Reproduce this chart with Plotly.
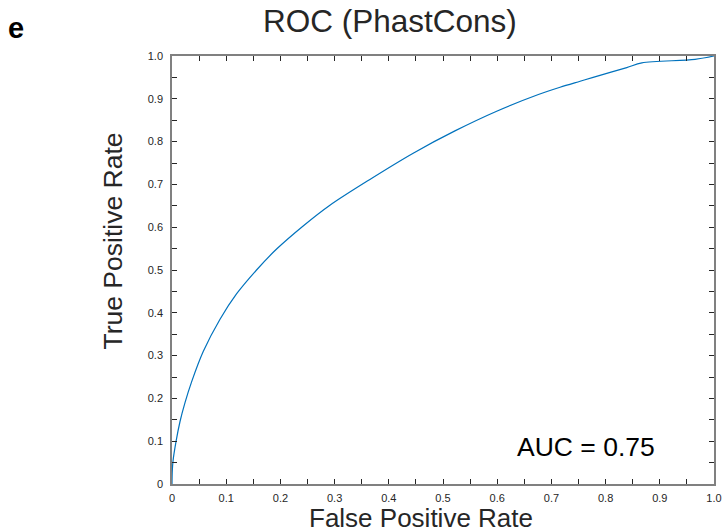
import plotly.graph_objects as go

fpr = [0.0, 0.0005, 0.002, 0.0074, 0.0148, 0.024, 0.036, 0.0578, 0.0886, 0.119, 0.156, 0.193,
       0.242, 0.292, 0.368, 0.445, 0.522, 0.599, 0.676, 0.716, 0.753, 0.777, 0.839, 0.867,
       0.965, 1.0]
tpr = [0.0, 0.03, 0.055, 0.099, 0.146, 0.19, 0.238, 0.31, 0.385, 0.444, 0.500, 0.549,
       0.603, 0.652, 0.714, 0.773, 0.825, 0.871, 0.910, 0.927, 0.941, 0.950, 0.973, 0.984,
       0.992, 1.0]

tick_vals = [i * 0.05 for i in range(21)]
tick_text = ["0" if i == 0 else ("1.0" if i == 20 else (f"{i*0.05:.1f}" if i % 2 == 0 else "")) for i in range(21)]

title_text = "ROC (PhastCons)"
x_title = "False Positive Rate"
y_title = "True Positive Rate"
auc_text = "AUC = 0.75"
panel = "e"

FONT = "Liberation Sans, Arial, Helvetica, sans-serif"

fig = go.Figure()
fig.add_trace(go.Scatter(x=fpr, y=tpr, mode="lines",
                         line=dict(color="#0072BD", width=1.2, shape="spline", smoothing=0.9),
                         showlegend=False, hoverinfo="skip", cliponaxis=True))

axis_common = dict(
    range=[0, 1], tickvals=tick_vals, ticktext=tick_text, ticks="inside", ticklen=5,
    tickwidth=1, tickcolor="#262626", showline=True, linecolor="#808080", linewidth=1.5,
    mirror="ticks", showgrid=False, zeroline=False, automargin=False,
    tickfont=dict(family=FONT, size=11, color="#262626"),
)

fig.update_xaxes(**axis_common, ticklabelstandoff=3)
fig.update_yaxes(**axis_common, ticklabelstandoff=5)

fig.update_layout(
    width=722, height=532,
    margin=dict(l=172, r=8, t=56, b=48),
    paper_bgcolor="white", plot_bgcolor="white",
    font=dict(family=FONT, color="#262626"),
)

W, H, L, B = 542, 428, 172, 48

def px(x):
    return (x - L) / W

def py(y):
    return (532 - y - B) / H

fig.add_annotation(text=title_text, xref="paper", yref="paper", x=px(390), y=py(21),
                   showarrow=False, font=dict(size=31.5, family=FONT, color="#262626"),
                   xanchor="center", yanchor="middle")
fig.add_annotation(text=x_title, xref="paper", yref="paper", x=px(421), y=py(517.5),
                   showarrow=False, font=dict(size=26, family=FONT, color="#262626"),
                   xanchor="center", yanchor="middle", borderpad=0)
fig.add_annotation(text=y_title, xref="paper", yref="paper", x=px(112), y=py(241.5),
                   showarrow=False, textangle=-90, font=dict(size=26.5, family=FONT, color="#262626"),
                   xanchor="center", yanchor="middle")
fig.add_annotation(text=auc_text, xref="paper", yref="paper", x=px(585.5), y=py(447),
                   showarrow=False, font=dict(size=26.5, family=FONT, color="#000000"),
                   xanchor="center", yanchor="middle")
fig.add_annotation(text=f"<b>{panel}</b>", xref="paper", yref="paper", x=px(16), y=py(28),
                   showarrow=False, font=dict(size=29, family=FONT, color="#000000"),
                   xanchor="center", yanchor="middle")

fig.write_html("out.html")
